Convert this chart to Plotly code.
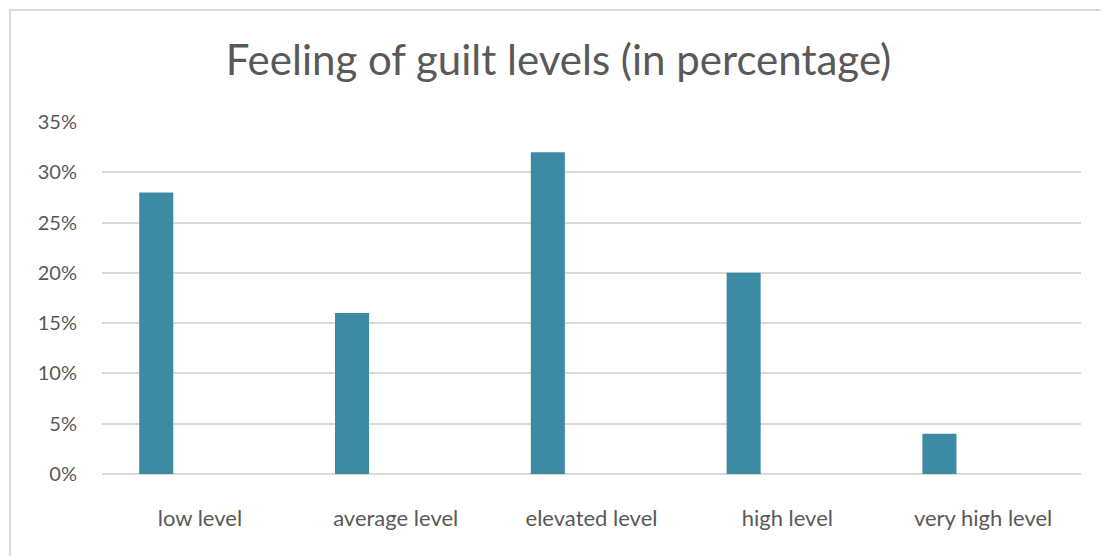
import plotly.graph_objects as go

categories = ['low level', 'average level', 'elevated level', 'high level', 'very high level']
percentages = [0.28, 0.16, 0.32, 0.20, 0.04]
y_ticks = [0, 0.05, 0.10, 0.15, 0.20, 0.25, 0.30, 0.35]

fig = go.Figure()
fig.add_trace(go.Bar(
    x=categories,
    y=percentages,
    marker=dict(color='#3C8AA3', line=dict(width=0)),
    width=0.174,
    offset=-0.31,
))

# chart border like the Excel frame (left + top visible)
fig.add_shape(type='rect', xref='paper', yref='paper',
              x0=-0.094, x1=1.05, y0=-0.3, y1=1.318,
              line=dict(color='#D9D9D9', width=2), layer='below')

# page body has an 8px margin, so the figure is shrunk to fit
fig.update_layout(
    width=1101, height=548,
    margin=dict(l=94, r=28, t=114, b=82),
    plot_bgcolor='white',
    paper_bgcolor='white',
    font=dict(family='Lato, Carlito, sans-serif', size=20, color='#595959'),
    title=dict(text='Feeling of guilt levels (in percentage)',
               x=0.5, xanchor='center', y=0.905, yanchor='middle',
               font=dict(size=42, color='#595959')),
    showlegend=False,
    xaxis=dict(showgrid=False, showline=False, ticks='', ticklabelstandoff=29,
               tickfont=dict(size=22)),
    yaxis=dict(range=[0, 0.35], tickvals=y_ticks, tickformat='.0%',
               showgrid=True, gridcolor='#D9D9D9', gridwidth=1.5,
               zeroline=True, zerolinecolor='#D9D9D9', zerolinewidth=1.5,
               showline=False, ticks='', ticklabelstandoff=24),
)

fig.write_html('out.html')
